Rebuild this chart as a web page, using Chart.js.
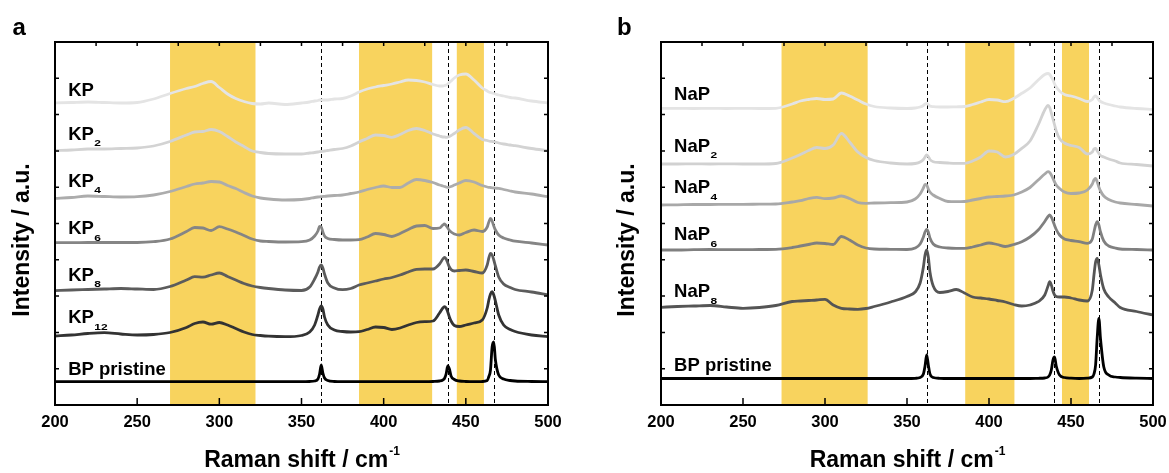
<!DOCTYPE html>
<html>
<head>
<meta charset="utf-8">
<script src="https://cdn.jsdelivr.net/npm/chart.js@4.4.1/dist/chart.umd.min.js"></script>
<style>
  body{margin:0;background:#fff;}
  #wrap{position:relative;width:1169px;height:473px;}
  canvas{position:absolute;top:0;}
  #panelA{left:0;}
  #panelB{left:590px;}
</style>
</head>
<body>
<div id="wrap">
  <canvas id="panelA" width="590" height="473"></canvas>
  <canvas id="panelB" width="579" height="473"></canvas>
</div>
<script>
/* Raman spectra, two panels, offset stacks (y = offset intensity, a.u.) */
const ramanShift = [200,210,220,230,240,250,260,270,280,285,
  290,295,300,305,310,315,320,325,330,340,
  350,355,358,360,361,362,363,364,366,370,
  375,380,385,390,395,400,405,410,415,420,
  425,430,434,436,437,438,439,440,441,443,
  446,450,455,460,463,464,465,466,467,468,
  470,473,477,480,490,500];
const xTicks = [200,250,300,350,400,450,500];

// panel a
const kp = [302,302.5,303,302.5,302,302.5,306,311.5,316.5,318.5,
  321.5,323.5,317.5,311,306.5,303.5,301.5,301,302,300.5,
  302,303,304,304.5,305,305,305,305,305,306,
  306.5,309,313,316,318,319.5,321,323,325,324.5,
  323,320.5,319,319,319.5,320,321,322.5,324,327,
  330,331,325,317,314,313,312.5,312,311.5,311,
  310,309,307.5,307,304,302];
const kp2 = [254.5,255,256,256,256.5,257,259,263.5,270,273,
  273.5,275.5,273.5,268.5,263,258.5,254,252.5,251.5,251,
  251,252,252.5,253,253.3,253.5,253.7,254,254.5,255.5,
  256.5,259,263,266.5,270,269.5,267.7,270.5,274.5,276.5,
  274.5,271,269,268,268,267.7,268,268.5,269.5,271.5,
  275,277.5,271.5,265.5,264.5,264,263.7,263.5,263.3,263,
  262,261,260,259.3,256.5,254.3];
const kp4 = [206.7,207.5,209,208.5,208,208.3,210,213.5,218.5,221,
  222,223.5,223,219.5,216.5,212.5,209,207,206,205,
  205.5,206.5,207.5,208,208.2,208.3,208.5,208.7,209,209.5,
  210,211.5,213,215.5,217.5,219,217.5,217.5,222,225.5,
  224.5,222.5,220,219,218.5,218,217.7,218,218.5,220,
  222,224.5,223,219.5,218,217.7,217.5,217.2,217,216.8,
  216.7,215.5,214,213,211,208.3];
const kp6 = [162.3,162.3,162.5,162.5,162.5,162.5,163.3,166,173.5,177.5,
  177,174.5,178.3,176,173,169.5,166,164,163.5,163,
  163.3,165,169,174,178.5,178,173,169,166.5,165.5,
  165,165,165.3,168,171.5,170.5,168.5,171.5,175.5,179,
  179.5,176.5,177,180,181,179.5,177,174.5,173,171,
  170,172.5,175,173.5,178,183,186.5,184,179,175,
  170,167,165,163.8,162,160];
const kp8 = [114.3,115,115.5,116,116.5,116,115.5,118.5,125,128.3,
  127.8,130,132,128.5,125,121.5,119,117.5,116.5,115,
  114.5,118,126,133,138,140,137,131,122,117,
  115.3,116.5,120,122,124,126,127.5,130,133,135.7,
  136,136,141,146,147.7,146,142,138,135.5,134,
  134.5,135,133.5,132,140,147,151.7,150,145,139,
  128,121,117.5,115.5,113,110];
const kp12 = [69,70,71.5,72.3,71,70,70.5,72.5,77.5,81.5,
  83,80.8,82.5,80,76.5,73,70.5,69.5,68.8,68.3,
  69.5,73,80,90,96,99,96,88,80,75,
  73.5,73,73.3,75.5,78,77.5,75.5,77,80,82.5,
  83.3,84,92,97,98.3,97,93,88,84,79.5,
  78.5,80,82,85,97,105,111,113.3,110,104,
  90,80,75.5,73.5,70,68.3];
const bpA = [23.3,23.3,23.3,23.3,23.3,23.3,23.3,23.3,23.3,23.3,
  23.3,23.3,23.3,23.3,23.3,23.3,23.3,23.3,23.3,23.3,
  23.3,23.5,24,26,31,40,32,27,24.5,23.5,
  23.3,23.3,23.3,23.3,23.3,23.3,23.3,23.3,23.3,23.3,
  23.3,23.5,24,25,26.5,31,39,36,29,25.5,
  24,23.5,23.3,23.5,24.5,28.5,35,58,63,45,
  30,26,24.5,24,23.5,23.3];

// panel b
const nap = [296.7,296.7,296.5,296.7,296.5,296.7,296.5,296.7,301,304,
  305.5,306.5,305.5,306,312,309,305,301,298.5,297,
  296.5,297,298,299.5,301,301.7,300.5,299,298.3,298,
  298,298.2,298.5,300.5,303,305.5,305,303.3,306.5,311.7,
  317,325,330.5,331.5,330.5,328,325,321,318,314,
  310.5,309,306.5,303.5,305.5,308,309,307.5,305,303.5,
  302,300.5,299,298,296.5,295.7];
const nap2 = [241,241,241.2,241,241.2,241,241,241.5,247,250.5,
  254.5,257.5,256.5,260,271.5,263,253,247.5,244.5,242,
  241,241.5,243,245.5,248,250,248.5,245.5,243.3,242.5,
  242,241.7,241.7,244,248,254,253,248,250.5,256.7,
  264,280,295,299.5,297.5,292,286,280,274,266.5,
  262,259.5,257.5,251,253,256,256.7,254,251.5,249.5,
  248,246,244,242,240.5,239];
const nap4 = [200,200.2,200.5,200.5,200.7,200.7,200.8,201,203,204.3,
  206.5,207.7,206.3,207,209,206.5,202.5,201.7,202,202.3,
  203,206,211,217,220.5,220,216,213,210,206.5,
  203.5,203.3,203.5,205,206.5,208,208.5,209,210,213,
  217.5,225,231,233.3,232.5,230,226.5,223,220,216.5,
  213,211.5,212,215,221,225,226.7,223,218,214,
  209,205.5,203,202,200.5,199];
const nap6 = [155,155,155.3,155.5,155.3,155.3,155.5,155.7,157.5,159,
  160.5,162,161.5,160.5,168.5,165,160,157,156,155.7,
  155.5,157,161,168,173,175.5,173,167,161,158,
  157,156.7,156.7,158,160,162,160.5,158.5,160.5,163.3,
  168,175,183.5,188.5,190,188,184,179.5,175.5,170,
  166,164.5,163.3,161.7,166,173,180,183.3,180,173,
  164,159,157,156,155.5,155];
const nap8 = [97.7,98.5,99,99.5,98,96.7,97.5,99.5,103.5,104,
  104.5,105,105.7,100,96.7,96,95.7,96.5,98.5,103,
  108.5,113,122,138,150,155,148,133,119,112.5,
  113.5,115.5,112,108,107,106,104.5,103,100.5,99,
  100,103.3,110,119,123.3,120,114,110,108.5,108,
  108,107,105,104,115,130,143,146.7,140,130,
  116,108,102,97.5,93.5,90];
const bpB = [26.5,26.5,26.5,26.5,26.5,26.5,26.5,26.5,26.5,26.5,
  26.5,26.5,26.5,26.5,26.5,26.5,26.5,26.5,26.5,26.5,
  26.5,26.7,27.5,31,39,50,40,31,27.5,26.7,
  26.5,26.5,26.5,26.5,26.5,26.5,26.5,26.5,26.5,26.5,
  26.5,26.7,27,28,30,35,45,48,39,30,
  27.5,26.8,26.5,26.8,28,31,40,68,86.7,66,
  38,30,28,27.5,26.8,26.5];

const bandsA = [[270,322],[385,429.5],[444.5,461]];
const bandsB = [[273.5,326],[385.5,415.5],[444.5,461]];
const peakLines = [362,439.4,467];

const labelsA = ["KP","KP","KP","KP","KP","KP","BP pristine"];
const subsA   = ["","2","4","6","8","12",""];
const labelYA = [309,265.5,218.5,170.7,124.3,81.7,30];
const labelsB = ["NaP","NaP","NaP","NaP","NaP","BP pristine"];
const subsB   = ["","2","4","6","8",""];
const labelYB = [305,253.3,211.7,165,107.7,34];

const greysA = ["#e4e4e4","#d3d3d3","#acacac","#858585","#5c5c5c","#333333","#000000"];
const greysB = ["#e4e4e4","#d1d1d1","#a8a8a8","#808080","#555555","#000000"];

const FONT = '"Liberation Sans", Arial, sans-serif';
const YELLOW = "#f8d35e";

function decor(p){
  return {
    id:"decor",
    beforeDatasetsDraw(chart){
      const {ctx, chartArea:a, scales:{x}} = chart;
      ctx.save();
      ctx.fillStyle = YELLOW;
      p.bands.forEach(([b0,b1])=>{
        const x0 = x.getPixelForValue(b0), x1 = x.getPixelForValue(b1);
        ctx.fillRect(x0, a.top, x1-x0, a.bottom-a.top);
      });
      ctx.strokeStyle="#000"; ctx.lineWidth=1; ctx.setLineDash([4,3]);
      peakLines.forEach(v=>{
        const px = Math.round(x.getPixelForValue(v))+0.5;
        ctx.beginPath(); ctx.moveTo(px,a.top); ctx.lineTo(px,a.bottom); ctx.stroke();
      });
      ctx.restore();
    },
    afterDatasetsDraw(chart){
      const {ctx, chartArea:a, scales:{x,y}} = chart;
      ctx.save();
      // ticks
      ctx.strokeStyle="#000"; ctx.lineWidth=1.5;
      ctx.beginPath();
      for(let v=200; v<=500; v+=25){
        const px = x.getPixelForValue(v);
        ctx.moveTo(px,a.top); ctx.lineTo(px,a.top+4);
        if(v%50===0){ ctx.moveTo(px,a.bottom); ctx.lineTo(px,a.bottom-7); }
      }
      for(let v=0; v<=363; v+=36.3){
        const py = y.getPixelForValue(v);
        ctx.moveTo(a.left,py); ctx.lineTo(a.left+4,py);
        ctx.moveTo(a.right,py); ctx.lineTo(a.right-4,py);
      }
      ctx.stroke();
      // frame
      ctx.lineWidth=2;
      ctx.strokeRect(a.left, a.top, a.right-a.left, a.bottom-a.top);
      // tick labels
      ctx.fillStyle="#000";
      ctx.font = `bold 16.5px ${FONT}`;
      ctx.textAlign="center"; ctx.textBaseline="alphabetic";
      xTicks.forEach(v=>ctx.fillText(String(v), x.getPixelForValue(v), 427));
      // x title
      ctx.font = `bold 23px ${FONT}`;
      const main = "Raman shift / cm";
      const mw = ctx.measureText(main).width;
      ctx.font = `bold 12px ${FONT}`;
      const sw = ctx.measureText("-1").width;
      const cx = (a.left+a.right)/2, x0 = cx-(mw+sw)/2;
      ctx.textAlign="left";
      ctx.font = `bold 23px ${FONT}`;
      ctx.fillText(main, x0, 467);
      ctx.font = `bold 12px ${FONT}`;
      ctx.fillText("-1", x0+mw+1, 455);
      // y title
      ctx.save();
      ctx.translate(p.yTitleX, 240); ctx.rotate(-Math.PI/2);
      ctx.font = `bold 23px ${FONT}`; ctx.textAlign="center"; ctx.textBaseline="middle";
      ctx.fillText("Intensity / a.u.", 0, 0);
      ctx.restore();
      // panel letter
      ctx.font = `bold 24px ${FONT}`; ctx.textAlign="left";
      ctx.fillText(p.letter, p.letterX, 34.5);
      // series labels
      p.labels.forEach((t,i)=>{
        const lx = x.getPixelForValue(208), ly = y.getPixelForValue(p.labelY[i]);
        ctx.font = `bold 18.5px ${FONT}`;
        ctx.fillText(t, lx, ly);
        if(p.subs[i]){
          const w = ctx.measureText(t).width;
          ctx.save();
          ctx.translate(lx+w+0.5, ly+6.5); ctx.scale(1,0.7);
          ctx.font = `bold 12px ${FONT}`;
          ctx.fillText(p.subs[i], 0, 0);
          ctx.restore();
        }
      });
      ctx.restore();
    }
  };
}

function makePanel(id, series, greys, p, pad){
  const datasets = series.map((ys,i)=>({
    data: ramanShift.map((v,j)=>({x:v, y:ys[j]})),
    borderColor: greys[i], borderWidth: 2.8,
    pointRadius: 0, cubicInterpolationMode: "monotone",
    borderJoinStyle: "round", fill: false
  }));
  return new Chart(document.getElementById(id), {
    type: "line",
    data: {datasets},
    options: {
      responsive:false, animation:false,
      layout:{padding:pad},
      scales:{
        x:{type:"linear", min:200, max:500, display:false},
        y:{min:0, max:363, display:false}
      },
      plugins:{legend:{display:false}, tooltip:{enabled:false}}
    },
    plugins:[decor(p)]
  });
}

makePanel("panelA", [kp,kp2,kp4,kp6,kp8,kp12,bpA], greysA,
  {bands:bandsA, labels:labelsA, subs:subsA, labelY:labelYA, letter:"a", letterX:12.5, yTitleX:22.5},
  {left:55, right:42, top:42, bottom:68});
makePanel("panelB", [nap,nap2,nap4,nap6,nap8,bpB], greysB,
  {bands:bandsB, labels:labelsB, subs:subsB, labelY:labelYB, letter:"b", letterX:27, yTitleX:38},
  {left:71, right:16, top:42, bottom:68});
</script>
</body>
</html>
